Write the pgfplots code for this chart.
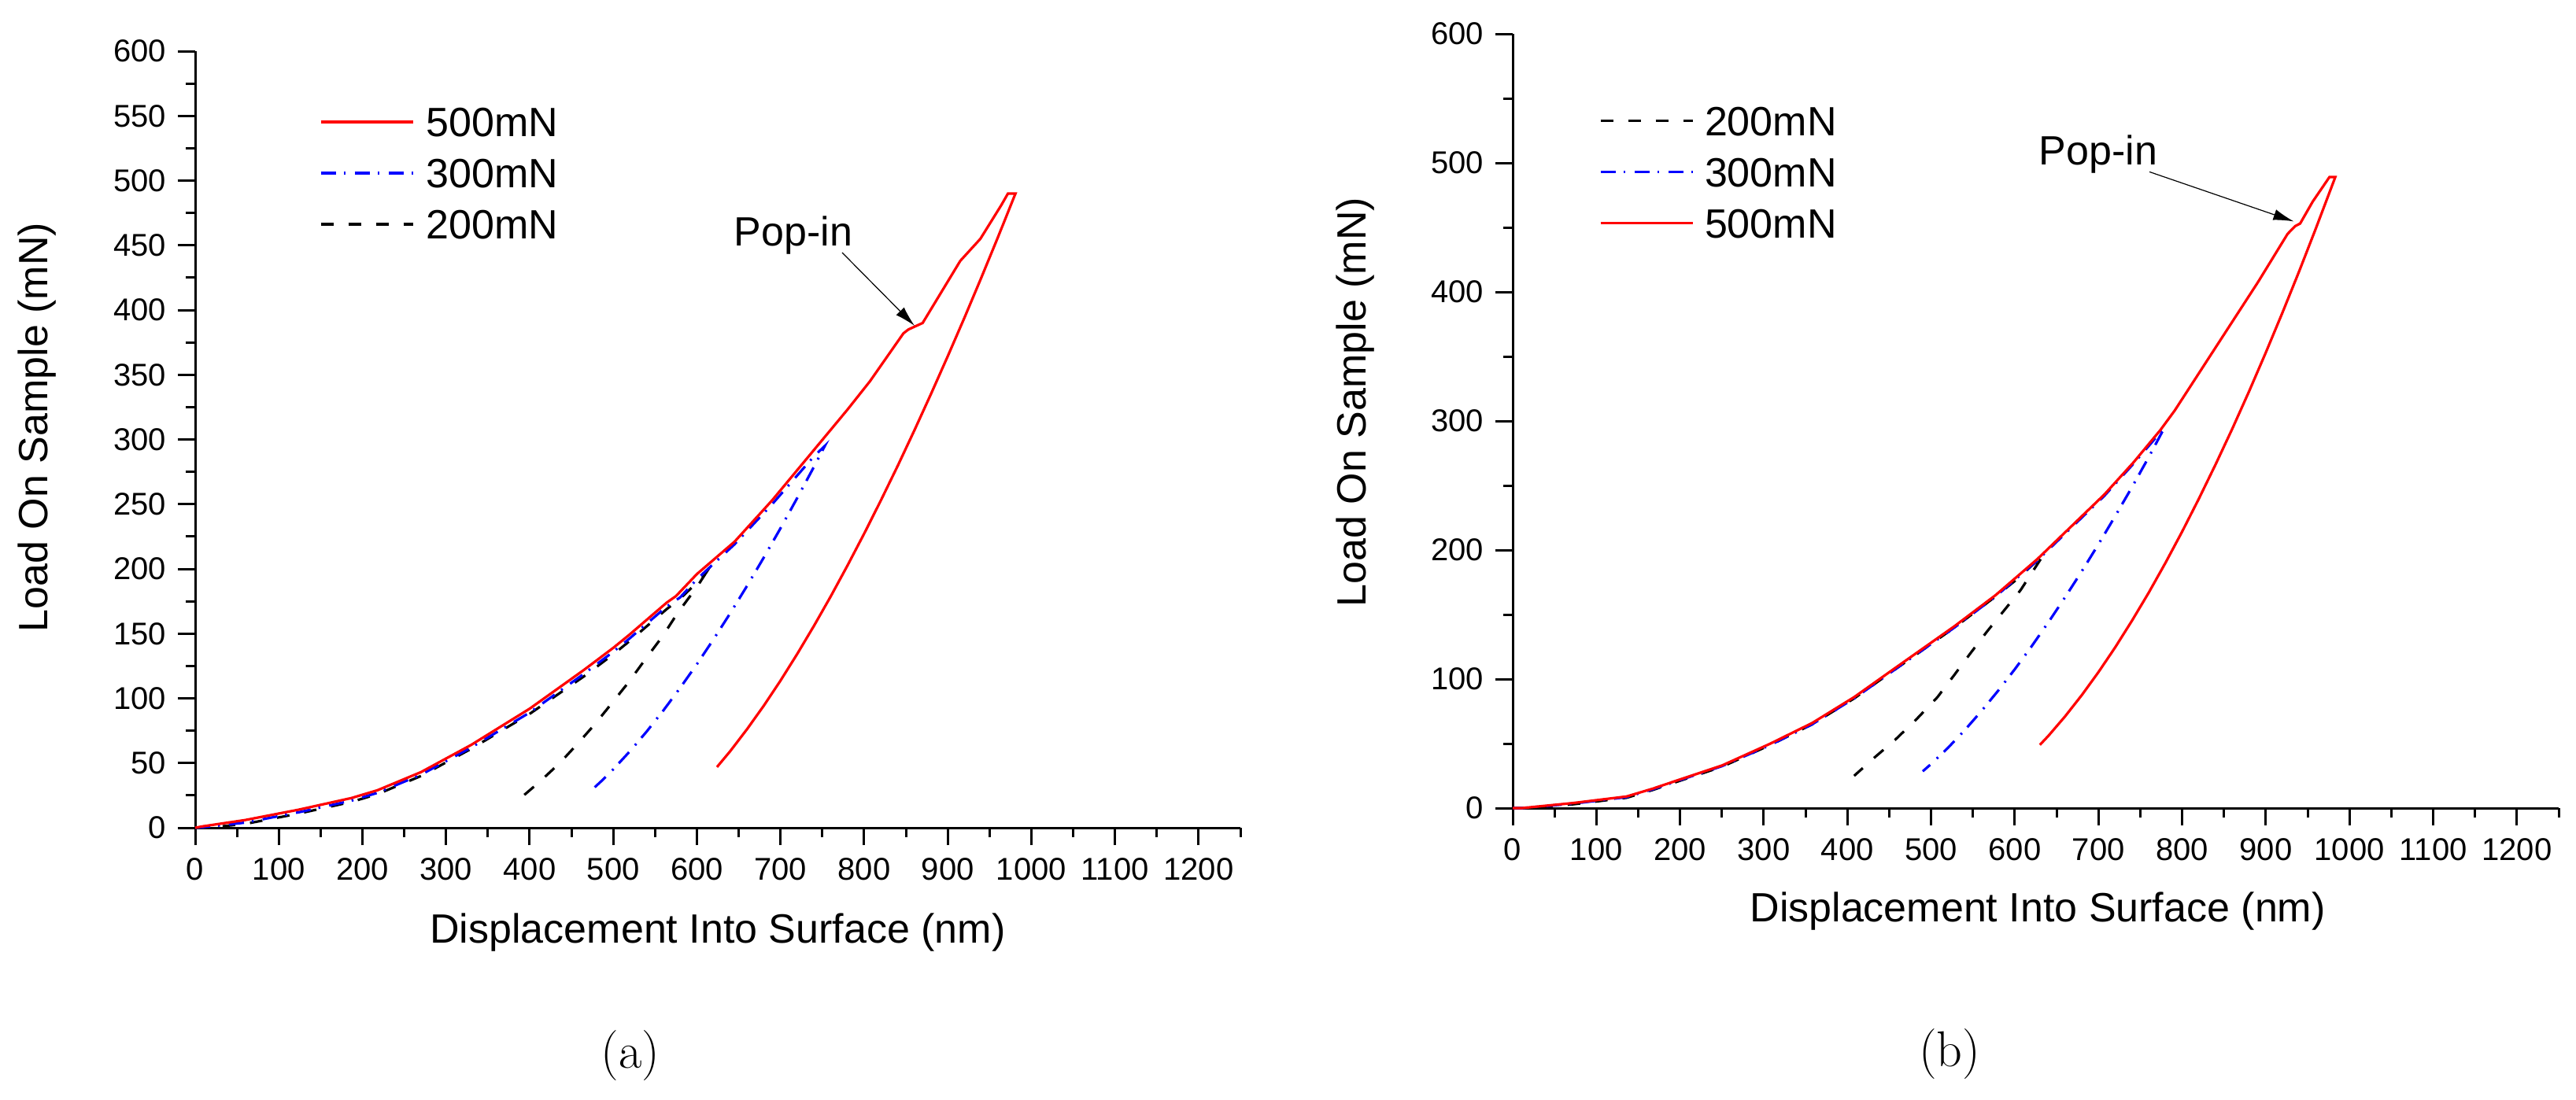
\documentclass[border=0pt]{standalone}
\usepackage{fontspec}
\newfontfamily\arial{Liberation Sans}
\usepackage{pgfplots}
\pgfplotsset{compat=1.18}
\usetikzlibrary{arrows.meta}
\pgfplotsset{
  common/.style={
    scale only axis,
    xmin=0, xmax=1250, ymin=0, ymax=600,
    axis x line*=bottom, axis y line*=left,
    axis line style={-, line width=0.75pt},
    tick align=outside,
    major tick length=5.5pt, minor tick length=3pt,
    every tick/.style={black, line width=0.75pt},
    xtick={0,100,...,1200},
    minor xtick={50,150,...,1250},
    tick label style={font=\arial\fontsize{10}{12}\selectfont},
    /pgf/number format/assume math mode=true,
    /pgf/number format/1000 sep={},
    xticklabel style={anchor=north, inner sep=0pt, yshift=-4pt},
    yticklabel style={anchor=east, inner sep=0pt, xshift=-3.5pt},
    label style={font=\arial\fontsize{13}{15}\selectfont, inner sep=0pt},
    legend cell align=left,
    legend image code/.code={\draw[##1] (0pt,0pt) -- (29.3pt,0pt);},
    clip=false,
  },
  redline/.style={color=red, line width=0.8pt, solid},
  blueline/.style={color=blue, line width=0.8pt, dash pattern=on 4.8pt off 2.5pt on 0.6pt off 2.9pt},
  blackline/.style={color=black, line width=0.8pt, dash pattern=on 4pt off 4.75pt},
}
\begin{document}
\begin{tikzpicture}
\path[use as bounding box] (0pt,0pt) rectangle (818.25pt,349.25pt);

% ---------------- (a) ----------------
\begin{axis}[common,
  at={(62pt,86.25pt)}, anchor=south west,
  width=332pt, height=246.75pt,
  ytick={0,50,...,600}, minor ytick={25,75,...,575},
  xlabel={Displacement Into Surface (nm)},
  ylabel={Load On Sample (mN)},
  xlabel style={at={(axis description cs:0.5,-0.1348)}, anchor=center},
  ylabel style={at={(axis description cs:-0.1514,0.5157)}, anchor=center, rotate=0},
  reverse legend,
  legend style={at={(axis description cs:0.119,0.9277)}, anchor=north west,
    draw=none, fill=none, inner sep=0pt, outer sep=0pt,
    row sep=6.95pt, column sep=3.75pt,
    font=\arial\fontsize{13}{15}\selectfont,
    nodes={inner sep=0pt, text height=9.3pt, text depth=0pt}},
]
\addplot[blackline] coordinates {
(0,0)(15,0)(60,3)(124,11)(187,20)(218,26)(270,40)(330,61)(400,88)(465,117)(500,134)(519,144)(564,169)(580,177)(609,195)
(600,186)(577,166)(559,148)(537,129)(519,113)(498,96)(478,80)(456,64)(436,50)(411,35)(382,19)
};
\addlegendentry{200mN}
\addplot[blueline] coordinates {
(0,0)(10,0.5)(60,4)(124,12)(187,21)(218,27)(270,41)(330,62)(400,89)(465,119)(500,136)(519,146)(564,171)(580,178)(600,192)(645,219)(690,250)(740,287)(753,295)
(740,278.9)(720,254.8)(700,231.4)(680,208.8)(660,186.9)(640,165.9)(620,145.7)(600,126.4)(580,108.1)(560,90.7)(540,74.4)(520,59.2)(500,45.2)(486,36.2)(474,29)
};
\addlegendentry{300mN}
\addplot[redline] coordinates {
(0,0)(8,1)(60,6)(124,14)(187,23)(218,29)(270,43)(330,64)(400,92)(465,122)(500,139)(519,149)(564,174)(575,179)(600,196)(645,221)(690,253)(744,295)(780,323)(807,345)(847,382)(853,385)(870,390)(915,438)(939,455)(964,481)(972,490)(981,490)
(960,456.2)(940,424.8)(920,394.1)(900,364.3)(880,335.2)(860,306.9)(840,279.4)(820,252.9)(800,227.2)(780,202.5)(760,178.7)(740,156)(720,134.3)(700,113.7)(680,94.3)(660,76.2)(640,59.3)(624,46.9)
};
\addlegendentry{500mN}
\end{axis}

\node[anchor=base west, inner sep=0pt, font=\arial\fontsize{13}{15}\selectfont] at (233pt,271.25pt) {Pop-in};
\draw[line width=0.3pt, -{Latex[length=6.5pt,width=3.5pt]}] (267.5pt,269pt) -- (290.5pt,245.75pt);
\node[inner sep=0pt, font=\fontsize{16}{19}\selectfont] at (200.25pt,13.75pt) {(a)};

% ---------------- (b) ----------------
\begin{axis}[common,
  at={(480.5pt,92.5pt)}, anchor=south west,
  width=332.25pt, height=246pt,
  ytick={0,100,...,600}, minor ytick={50,150,...,550},
  xlabel={Displacement Into Surface (nm)},
  ylabel={Load On Sample (mN)},
  xlabel style={at={(axis description cs:0.5019,-0.1331)}, anchor=center},
  ylabel style={at={(axis description cs:-0.1505,0.5244)}, anchor=center, rotate=0},
  legend style={at={(axis description cs:0.0828,0.9067)}, anchor=north west,
    draw=none, fill=none, inner sep=0pt, outer sep=0pt,
    row sep=6.95pt, column sep=3.4pt,
    font=\arial\fontsize{13}{15}\selectfont,
    nodes={inner sep=0pt, text height=9.3pt, text depth=0pt}},
]
\addplot[blackline] coordinates {
(0,0)(15,0)(73,3)(136,8)(167,14)(199,21)(250,32)(308,49)(358,65)(408,85)(458,108)(528,140)(577,164)(600,176)(634,196)
(622,184)(607,169)(587,153)(567,137)(547,120)(527.5,103)(507.6,86)(482.7,69)(457.8,53.4)(432.9,39.5)(408,25)
};
\addlegendentry{200mN}
\addplot[blueline] coordinates {
(0,0)(11,0)(73,3.5)(136,8.5)(167,14.5)(199,21.5)(250,32.5)(308,49)(358,65)(408,85)(458,108)(528,140)(577,164)(627,192)(667,217)(707,242)(742,267)(779,295)
(760,271.9)(740,248.7)(720,226.3)(700,204.5)(680,183.5)(660,163.3)(640,143.9)(620,125.3)(600,107.6)(580,90.9)(560,75.1)(540,60.3)(520,46.6)(500,34.2)(490,28.5)
};
\addlegendentry{300mN}
\addplot[redline] coordinates {
(0,0)(11,0)(73,4)(136,9)(167,15)(199,22)(250,33)(308,50)(358,66)(408,86)(458,109)(528,141)(577,165)(627,193)(667,218)(707,243)(742,268)(774,293)(791,308)(821,338)(856,373)(891,408)(926,445)(935,451)(941,453)(956,470)(976,489)(983,489)
(960,449.6)(940,416.3)(920,384.2)(900,353.1)(880,323)(860,294.1)(840,266.4)(820,239.8)(800,214.3)(780,190)(760,166.9)(740,145.2)(720,124.6)(700,105.4)(680,87.5)(660,71)(640,55.9)(630,49)
};
\addlegendentry{500mN}
\end{axis}

\node[anchor=base west, inner sep=0pt, font=\arial\fontsize{13}{15}\selectfont] at (647.5pt,296.9pt) {Pop-in};
\draw[line width=0.3pt, -{Latex[length=6.5pt,width=3.5pt]}] (682.75pt,294.65pt) -- (728.6pt,278.9pt);
\node[inner sep=0pt, font=\fontsize{16}{19}\selectfont] at (619.25pt,14.25pt) {(b)};
\end{tikzpicture}
\end{document}
